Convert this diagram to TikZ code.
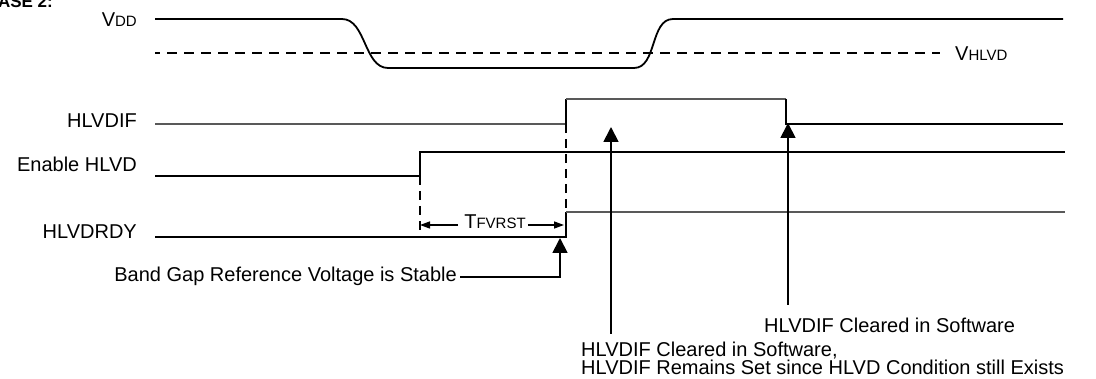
\documentclass[tikz,border=0pt]{standalone}
\usepackage{fontspec}
\setmainfont{Liberation Sans}
\usetikzlibrary{arrows.meta}
\newcommand{\smc}[1]{{\fontsize{15}{17}\selectfont #1}}
\begin{document}
\begin{tikzpicture}[x=1pt,y=-1pt,
  sig/.style={line width=1.8pt,black,line join=miter},
  sigg/.style={line width=1.4pt,black!65},
  dsh/.style={line width=1.8pt,dash pattern=on 10pt off 7pt,dash phase=5pt},
  vdsh/.style={line width=1.6pt,dash pattern=on 9pt off 6pt},
  lbl/.style={font=\fontsize{20}{22}\selectfont,inner sep=0pt},
  bigarrow/.style={line width=1.8pt,-{Triangle[width=15pt,length=15pt]}},
  smallarrow/.style={line width=1.3pt,-{Triangle[width=7pt,length=10pt]}}]
\useasboundingbox (0,0) rectangle (1096,379);
% title (clipped at the page edge as in the reference)
\node[font=\bfseries\fontsize{17}{20}\selectfont,inner sep=0pt,anchor=base east] (title) at (53,8) {CASE 2:};
% signal labels
\node[lbl,anchor=east] (lvdd) at (137,20) {V\smc{DD}};
\node[lbl,anchor=west] (lvhlvd) at (955,54) {V\smc{HLVD}};
\node[lbl,anchor=east] (lif) at (137,121) {HLVDIF};
\node[lbl,anchor=east] (len) at (137,164) {Enable HLVD};
\node[lbl,anchor=east] (lrdy) at (137,232) {HLVDRDY};
% VDD
\draw[sig] (155,19) -- (342,19) .. controls (366,19) and (364,68) .. (388,68) -- (634,68)
  .. controls (657,68) and (650,19) .. (673,19) -- (1063,19);
\draw[dsh] (155,53) -- (940,53);
% HLVDIF
\draw[sigg] (155,124) -- (566,124);
\draw[sig] (566,124) -- (566,99);
\draw[sigg] (566,99) -- (786,99);
\draw[sig] (786,99) -- (786,124) -- (1063,124);
% Enable HLVD
\draw[sig] (155,176) -- (420,176) -- (420,152) -- (1065,152);
% HLVDRDY
\draw[sig] (155,237) -- (566,237) -- (566,212);
\draw[sigg] (566,212) -- (1065,212);
% dashed verticals
\draw[vdsh] (420,176) -- (420,237);
\draw[vdsh] (566,124) -- (566,212);
% TFVRST
\node[lbl,anchor=center] (tf) at (495,222) {T\smc{FVRST}};
\coordinate (tfl) at (420,225);
\coordinate (tfr) at (564,225);
\draw[smallarrow] (tf.west |- tfl) ++(-6,0) -- (tfl);
\draw[smallarrow] (tf.east |- tfr) ++(2,0) -- (tfr);
% band gap
\node[lbl,anchor=east] (bg) at (457,276) {Band Gap Reference Voltage is Stable};
\coordinate (bgc) at (560,277);
\coordinate (bgt) at (560,238);
\draw[bigarrow] (bg.east |- bgc) ++(3,0) -- (bgc) -- (bgt);
% arrows to HLVDIF
\coordinate (a1b) at (611,334);
\coordinate (a1t) at (611,127);
\coordinate (a2b) at (788,305);
\coordinate (a2t) at (788,123);
\draw[bigarrow] (a1b) -- (a1t);
\draw[bigarrow] (a2b) -- (a2t);
\node[lbl,anchor=west] (t1) at (764,325) {HLVDIF Cleared in Software};
\node[lbl,anchor=base west] (t2a) at (581,357) {HLVDIF Cleared in Software,};
\node[lbl,anchor=base west] (t2b) at (581,375) {HLVDIF Remains Set since HLVD Condition still Exists};
\end{tikzpicture}
\end{document}
